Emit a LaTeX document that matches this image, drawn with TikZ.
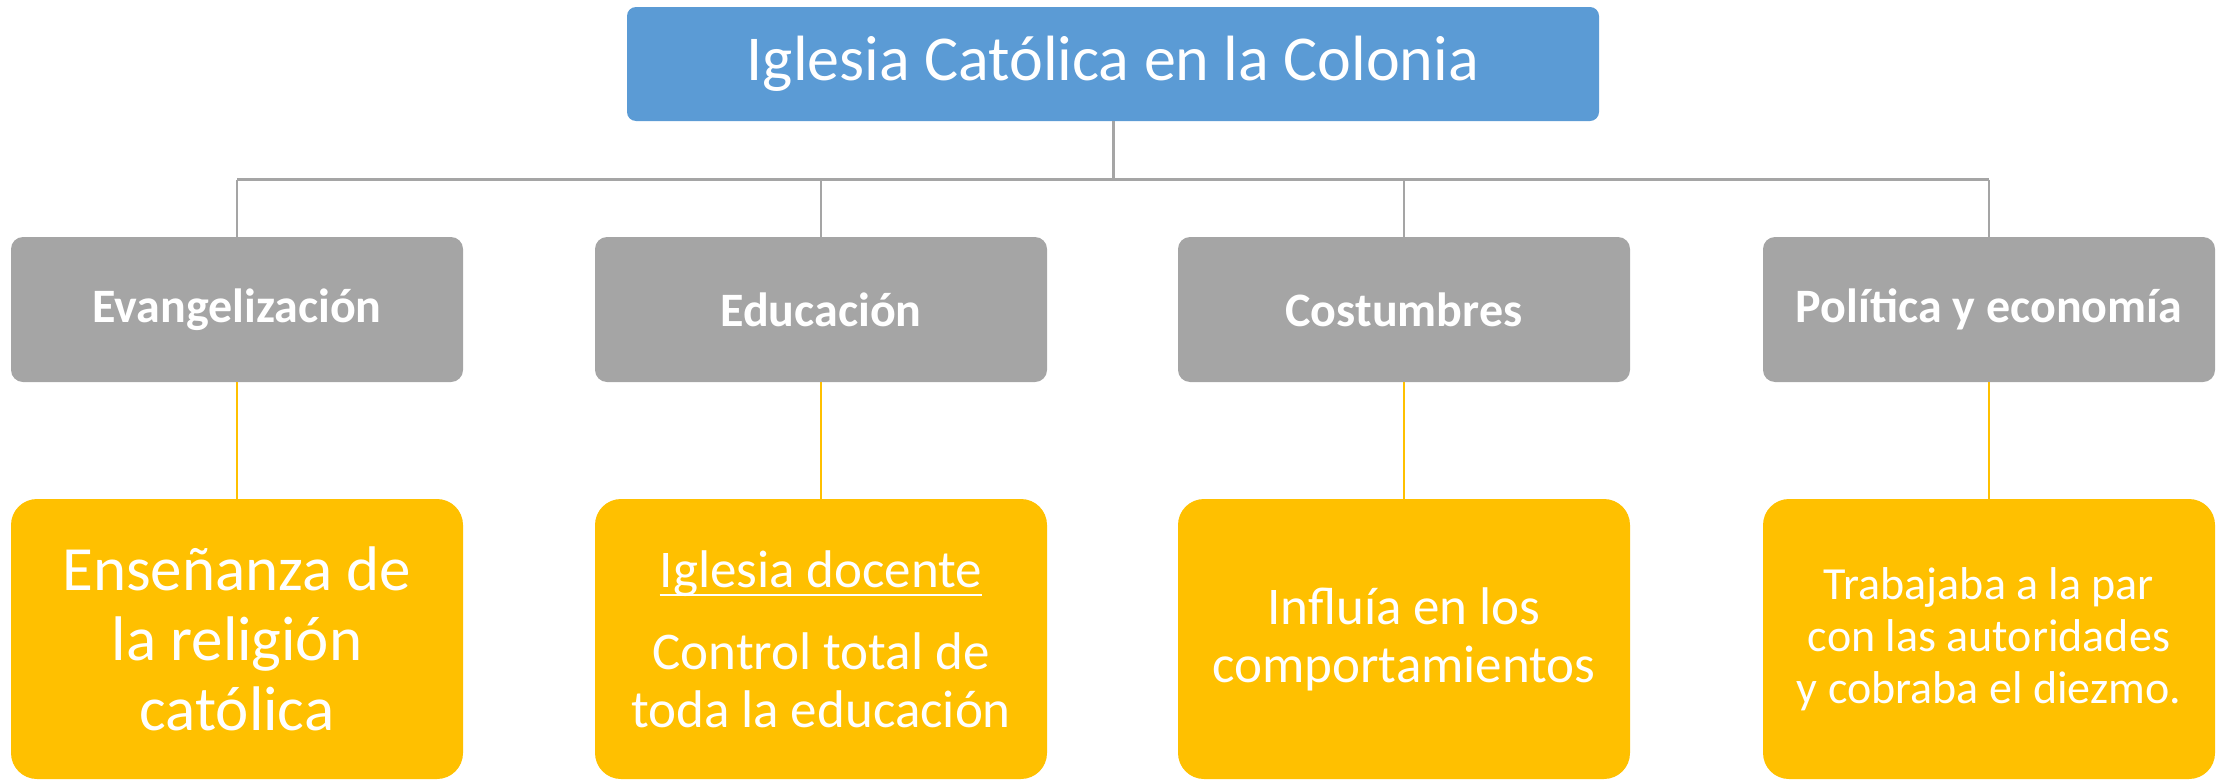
\documentclass[tikz,border=0pt]{standalone}
\usepackage{fontspec}
\setmainfont{Carlito}
\definecolor{cblue}{HTML}{5B9BD5}
\definecolor{cgray}{HTML}{A5A5A5}
\definecolor{cyel}{HTML}{FFC000}
\newcommand\myul[1]{\setbox0\hbox{#1}\rlap{\rule[-8.5pt]{\wd0}{2pt}}\box0}
\tikzset{
  topbox/.style={fill=cblue, rounded corners=9pt, minimum width=972pt, minimum height=114pt, inner sep=0pt, text=white, align=center},
  graybox/.style={fill=cgray, rounded corners=12pt, minimum width=452pt, minimum height=145pt, inner sep=0pt, text=white, align=center, font=\fontsize{48}{58}\selectfont\bfseries},
  yelbox/.style={fill=cyel, rounded corners=26pt, minimum width=452pt, minimum height=280pt, inner sep=0pt, text=white, align=center},
  gline/.style={draw=cgray, line width=2.2pt},
  gmain/.style={draw=cgray, line width=3pt},
  yline/.style={draw=cyel, line width=2.2pt}
}
\begin{document}
\begin{tikzpicture}[x=1pt, y=-1pt]
\useasboundingbox (0,0) rectangle (2221,779);
\node[topbox, font=\fontsize{64}{76}\selectfont] (top) at (1113,64) {Iglesia Católica en la Colonia};

\node[graybox] (g1) at (237,309.5) {Evangelización};
\node[graybox] (g2) at (821,309.5) {Educación};
\node[graybox] (g3) at (1404,309.5) {Costumbres};
\node[graybox] (g4) at (1989,309.5) {Política y economía};

\node[yelbox, font=\fontsize{63}{70}\selectfont] (y1) at (237,639) {Enseñanza de\\la religión\\católica};
\node[yelbox, font=\fontsize{53}{58}\selectfont] (y2) at (821,639) {\myul{Iglesia docente}\\[24pt]Control total de\\toda la educación};
\node[yelbox, font=\fontsize{53}{58}\selectfont] (y3) at (1404,639) {Influía en los\\comportamientos};
\node[yelbox, font=\fontsize{46}{52}\selectfont] (y4) at (1989,639) {Trabajaba a la par\\con las autoridades\\y cobraba el diezmo.};

\coordinate (j) at (1113,179.5);
\draw[gmain] (top.south) -- (j);
\draw[gline] (g1.north |- j) -- (g4.north |- j);
\draw[gline] (g1.north) -- (g1.north |- j);
\draw[gline] (g2.north) -- (g2.north |- j);
\draw[gline] (g3.north) -- (g3.north |- j);
\draw[gline] (g4.north) -- (g4.north |- j);

\draw[yline] (g1) -- (y1);
\draw[yline] (g2) -- (y2);
\draw[yline] (g3) -- (y3);
\draw[yline] (g4) -- (y4);
\end{tikzpicture}
\end{document}
